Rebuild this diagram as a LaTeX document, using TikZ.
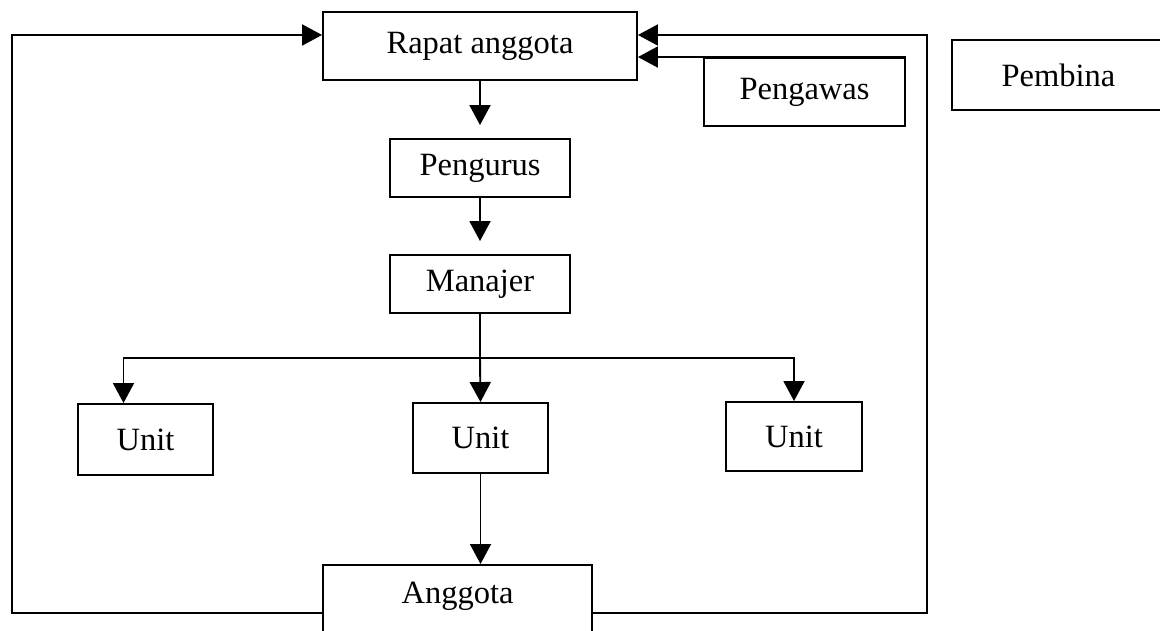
\documentclass[tikz,border=0pt]{standalone}
\usepackage{fontspec}
\setmainfont{Liberation Serif}
\usetikzlibrary{arrows.meta, positioning}
\tikzset{
  arrowB/.style={-{Triangle[length=0.4cm, width=0.42cm]}, black, line width=1.1pt},
  lineB/.style={black, line width=1.1pt},
  boxA/.style={rectangle, draw=black, line width=1.1pt, fill=white,
               align=center, inner sep=0pt},
}

\begin{document}
\begin{tikzpicture}[x=0.02cm, y=-0.02cm, font=\fontsize{18.5}{22}\selectfont]
    \useasboundingbox (0,0) rectangle (1160,631);
    % boxes
    \node[boxA, minimum width=6.28cm, minimum height=1.36cm] (rapat) at (480,46) {Rapat anggota};
    \node[boxA, minimum width=4.02cm, minimum height=1.36cm] (pengawas) at (804.5,92) {Pengawas};
    \node[boxA, minimum width=4.6cm, minimum height=1.4cm] (pembina) at (1067,75) {\hspace*{-0.34cm}Pembina};
    \node[boxA, minimum width=3.6cm, minimum height=1.16cm] (pengurus) at (480,168) {Pengurus};
    \node[boxA, minimum width=3.6cm, minimum height=1.16cm] (manajer) at (480,284) {Manajer};
    \node[boxA, minimum width=2.7cm, minimum height=1.42cm] (unitL) at (145.5,439.5) {Unit};
    \node[boxA, minimum width=2.7cm, minimum height=1.4cm] (unitM) at (480.5,438) {Unit};
    \node[boxA, minimum width=2.72cm, minimum height=1.38cm] (unitR) at (794,436.5) {Unit};
    \node[boxA, anchor=north, minimum width=5.38cm, text height=0.78cm, text depth=1.14cm]
      (anggota) at (457.5,564) {Anggota};
    % corners of the feedback lines
    \coordinate (bus) at (480,358);
    \coordinate (loopL) at (12,35);
    \coordinate (loopR) at (927,35);
    % connectors
    \draw[arrowB, shorten >=0.26cm] (rapat.south) -- (pengurus.north);
    \draw[arrowB, shorten >=0.26cm] (pengurus.south) -- (manajer.north);
    \draw[lineB] (manajer.south) -- (bus);
    \draw[arrowB] (bus) -| ([xshift=-0.44cm]unitL.north);
    \draw[arrowB] (bus) -- (unitM.north);
    \draw[arrowB] (bus) -| (unitR.north);
    \draw[arrowB] (unitM.south) -- (unitM.south |- anggota.north);
    \draw[arrowB] (anggota.west) -| (loopL) -- (rapat.west |- loopL);
    \draw[arrowB] (anggota.east) -| (loopR) -- (rapat.east |- loopR);
    \draw[arrowB] (pengawas.north east) -- (rapat.east |- pengawas.north);
  \end{tikzpicture}
\end{document}
